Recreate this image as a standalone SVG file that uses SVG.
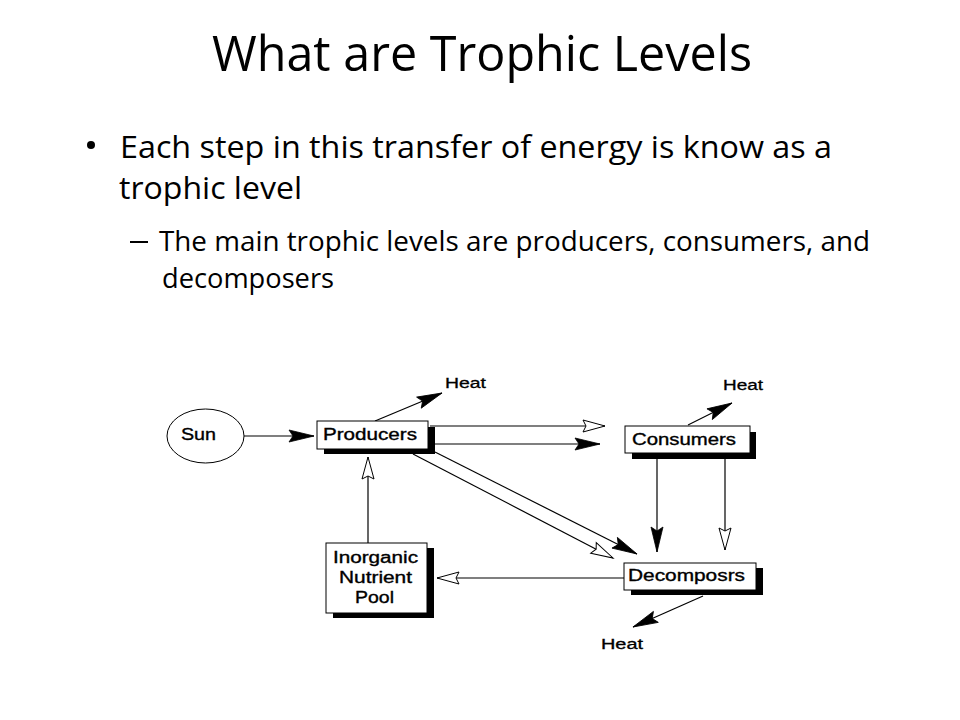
<svg xmlns="http://www.w3.org/2000/svg" width="960" height="720" viewBox="0 0 960 720">
<style>
.title{font-family:"Open Sans","Noto Sans",sans-serif;font-size:50px;fill:#000}
.b1{font-family:"Open Sans","Noto Sans",sans-serif;font-size:31px;fill:#000}
.b2{font-family:"Open Sans","Noto Sans",sans-serif;font-size:28px;fill:#000}
.lbl{font-family:"Liberation Sans",Arial,sans-serif;font-size:16px;fill:#000;stroke:#000;stroke-width:0.35}
.heat{font-family:"Liberation Sans",Arial,sans-serif;font-size:14px;fill:#000;stroke:#000;stroke-width:0.3}
.box{fill:#fff;stroke:#000;stroke-width:1}
.shadow{fill:#000}
.ln{stroke:#000;stroke-width:1.2;fill:none}
.f{marker-end:url(#filled)}
.h{marker-end:url(#hollow)}
</style>
<defs>
<marker id="filled" markerUnits="userSpaceOnUse" markerWidth="26" markerHeight="13" refX="25" refY="6" orient="auto" overflow="visible">
<path d="M0,0 L25,6 L0,12 L4,6 Z" fill="#000" stroke="#000" stroke-width="0.8"/>
</marker>
<marker id="hollow" markerUnits="userSpaceOnUse" markerWidth="24" markerHeight="13" refX="22" refY="6" orient="auto" overflow="visible">
<path d="M0,0 L22,6 L0,12 L3,6 Z" fill="#fff" stroke="#000" stroke-width="1"/>
</marker>
</defs>
<rect width="960" height="720" fill="#fff"/>

<g id="title">
<text class="title" x="212" y="71" textLength="540" lengthAdjust="spacingAndGlyphs">What are Trophic Levels</text>
</g>
<g id="bullets">
<circle cx="91" cy="145" r="4" fill="#000"/>
<text class="b1" x="120" y="158" textLength="712" lengthAdjust="spacingAndGlyphs">Each step in this transfer of energy is know as a</text>
<text class="b1" x="119" y="199" textLength="183" lengthAdjust="spacingAndGlyphs">trophic level</text>
<rect x="130" y="241" width="18" height="2" fill="#000"/>
<text class="b2" x="159" y="251" textLength="711" lengthAdjust="spacingAndGlyphs">The main trophic levels are producers, consumers, and</text>
<text class="b2" x="162" y="288" textLength="172" lengthAdjust="spacingAndGlyphs">decomposers</text>
</g>

<g id="connectors">
<line class="ln f" x1="244" y1="436" x2="314" y2="436"/>
<line class="ln f" x1="375" y1="421" x2="442" y2="393"/>
<line class="ln h" x1="430" y1="426" x2="605" y2="426"/>
<line class="ln f" x1="430" y1="444" x2="600" y2="444"/>
<line class="ln f" x1="435" y1="452" x2="637" y2="554"/>
<line class="ln h" x1="413" y1="454" x2="613" y2="558"/>
<line class="ln f" x1="688" y1="425" x2="732" y2="403"/>
<line class="ln f" x1="657" y1="459" x2="657" y2="552"/>
<line class="ln h" x1="725" y1="459" x2="725" y2="550"/>
<line class="ln h" x1="624" y1="578" x2="437" y2="578"/>
<line class="ln h" x1="368" y1="543" x2="368" y2="457"/>
<line class="ln f" x1="703" y1="596" x2="633" y2="627"/>
</g>

<g id="sun">
<ellipse cx="205.5" cy="436" rx="38.5" ry="27" fill="#fff" stroke="#000" stroke-width="1"/>
<text class="lbl" x="181" y="440" textLength="35" lengthAdjust="spacingAndGlyphs">Sun</text>
</g>
<g id="producers">
<rect class="shadow" x="324" y="427" width="111" height="27"/>
<rect class="box" x="317" y="421" width="111" height="28"/>
<text class="lbl" x="323" y="440" textLength="94" lengthAdjust="spacingAndGlyphs">Producers</text>
</g>
<g id="consumers">
<rect class="shadow" x="632" y="432" width="124" height="27"/>
<rect class="box" x="625" y="426" width="125" height="27"/>
<text class="lbl" x="632" y="445" textLength="104" lengthAdjust="spacingAndGlyphs">Consumers</text>
</g>
<g id="decomposers">
<rect class="shadow" x="631" y="568" width="132" height="27"/>
<rect class="box" x="624" y="563" width="132" height="27"/>
<text class="lbl" x="628" y="581" textLength="117" lengthAdjust="spacingAndGlyphs">Decomposrs</text>
</g>
<g id="inorganic">
<rect class="shadow" x="333" y="548" width="101" height="70"/>
<rect class="box" x="326" y="543" width="101" height="70"/>
<text class="lbl" x="333" y="563" textLength="85" lengthAdjust="spacingAndGlyphs">Inorganic</text>
<text class="lbl" x="339" y="583" textLength="73" lengthAdjust="spacingAndGlyphs">Nutrient</text>
<text class="lbl" x="355" y="603" textLength="39" lengthAdjust="spacingAndGlyphs">Pool</text>
</g>
<g id="heat-labels">
<text class="heat" x="445" y="388" textLength="41" lengthAdjust="spacingAndGlyphs">Heat</text>
<text class="heat" x="723" y="390" textLength="40" lengthAdjust="spacingAndGlyphs">Heat</text>
<text class="heat" x="601" y="649" textLength="42" lengthAdjust="spacingAndGlyphs">Heat</text>
</g>
</svg>
